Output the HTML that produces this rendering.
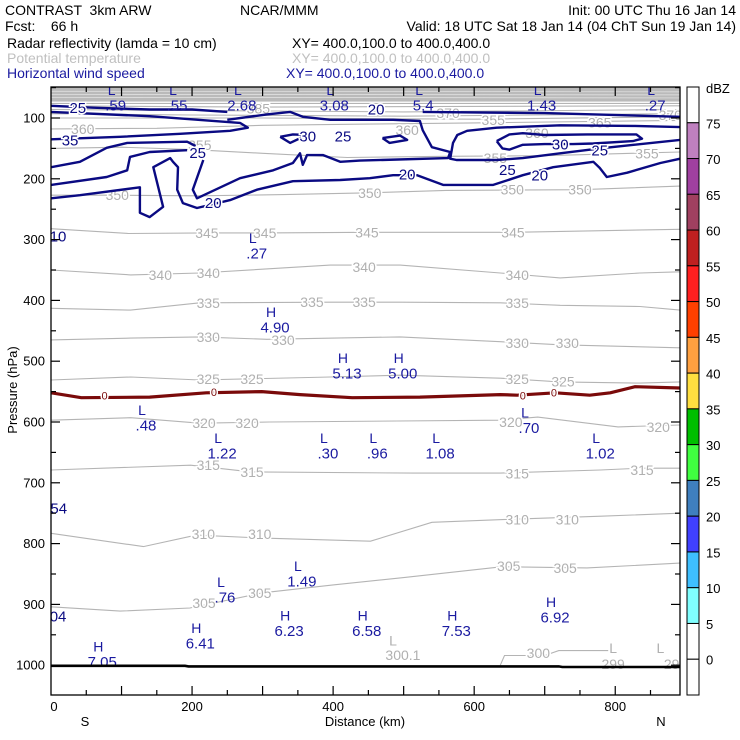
<!DOCTYPE html>
<html><head><meta charset="utf-8"><style>
body{margin:0;background:#fff;}
svg{display:block;font-family:"Liberation Sans",sans-serif;}
#chart text{white-space:pre;}
</style></head><body>
<svg id="chart" width="740" height="740" viewBox="0 0 740 740" xmlns="http://www.w3.org/2000/svg" xml:space="preserve">
<g font-size="14" fill="#000">
<text x="5" y="15">CONTRAST  3km ARW</text>
<text x="240" y="15">NCAR/MMM</text>
<text x="736" y="15" text-anchor="end">Init: 00 UTC Thu 16 Jan 14</text>
<text x="5" y="31">Fcst:    66 h</text>
<text x="736" y="31" text-anchor="end">Valid: 18 UTC Sat 18 Jan 14 (04 ChT Sun 19 Jan 14)</text>
<text x="7" y="48">Radar reflectivity (lamda = 10 cm)</text>
<text x="292" y="48">XY= 400.0,100.0 to 400.0,400.0</text>
<text x="7" y="63" fill="#c0c0c0">Potential temperature</text>
<text x="292" y="63" fill="#c0c0c0">XY= 400.0,100.0 to 400.0,400.0</text>
<text x="7" y="78" fill="#1a1aa0">Horizontal wind speed</text>
<text x="286" y="78" fill="#1a1aa0">XY= 400.0,100.0 to 400.0,400.0</text>
</g>
<g id="plot"></g>
<g id="cbar"></g>
</svg>
<script>
// ---------- data ----------
const xTicks=[0,200,400,600,800];
const yTicks=[100,200,300,400,500,600,700,800,900,1000];
const dbzLabels=[75,70,65,60,55,50,45,40,35,30,25,20,15,10,5,0];
const dbzColors=["#ffffff","#bf80bf","#a040a0","#a04060","#bf2020","#ff2020","#ff4000","#ffa040","#ffdf40","#00bf00","#40ff40","#3f7fbf","#4040ff","#3ebfff","#80ffff","#ffffff","#ffffff"];
const thetaLevels=[340,335,330,325,320,315,310,305];
const theta340=[[0,350],[113,358],[211,355],[396,342],[495,342],[637,355],[722,363],[835,355],[892,353]];
const theta335=[[0,413],[113,416],[211,404],[396,403],[495,403],[637,404],[722,408],[835,410],[892,416]];
const theta330=[[0,465],[113,462],[211,460],[306,464],[495,460],[637,468],[722,473],[892,478]];
const theta325=[[0,531],[113,526],[211,531],[396,526],[495,523],[637,528],[722,534],[835,536],[892,534]];
const theta320=[[0,597],[113,593],[211,602],[310,600],[637,597],[690,592],[804,608],[892,605]];
const theta315=[[0,679],[198,671],[284,682],[513,684],[637,684],[779,679],[835,676],[892,676]];
const theta310=[[0,783],[131,805],[206,786],[300,791],[453,796],[540,765],[650,760],[780,755],[892,750]];
const theta305=[[0,904],[98,911],[197,906],[300,881],[400,868],[500,856],[640,838],[760,840],[892,832]];
const theta350=[[0,227],[94,227],[211,228],[330,226],[452,223],[560,219],[750,218],[892,212]];
const theta345=[[0,282],[110,290],[221,289],[303,289],[448,288],[655,288],[892,283]];
const theta355=[[0,150],[100,148],[200,152],[300,158],[420,165],[560,163],[700,162],[892,156]];
const theta360=[[0,118],[150,117],[300,112],[450,110],[600,108],[892,104]];
const theta300=[[637,1000],[643,984],[700,984],[720,976],[790,976]];
const thetaTop=[[[0,76],[892,76]],[[0,80],[300,82],[892,80]],[[0,86],[250,88],[500,90],[892,86]],[[0,93],[200,95],[500,97],[892,93]],[[0,100],[300,100],[600,102],[892,98]]];
const wind35=[[0,90],[140,97],[268,108],[279,116],[254,121],[183,126],[98,131],[0,135]];
const windA=[[0,181],[41,172],[79,149],[108,141],[193,139],[205,146]];
const windB=[[0,210],[79,197],[108,186],[112,164],[140,156],[193,153]];
const windB2=[[216,169],[201,218],[207,232],[268,199],[315,186],[343,174],[353,158],[357,177],[363,161],[386,161],[410,172],[438,170],[563,166],[566,156],[540,148],[527,120],[523,105],[485,103],[434,103],[396,103],[357,98],[339,90],[306,94],[250,103]];
const windC=[[0,232],[41,227],[126,214],[126,256],[140,263],[159,246],[145,181],[169,166],[173,172],[180,181],[179,218],[187,240],[207,248],[254,235],[292,218],[343,204],[410,202],[452,199],[485,194],[519,194],[556,210],[627,210],[669,194],[712,181],[769,172],[778,182],[788,197],[817,190],[864,174],[892,167]];
const windR=[[892,115],[825,113],[722,112],[632,116],[590,121],[576,128],[570,141],[566,167],[575,169],[632,169],[669,166],[722,158],[778,150],[892,136]];
const windTop=[[527,90],[700,92],[892,98]];
const windTopL=[[0,80],[60,83],[140,86],[200,86],[250,90]];
const wind30a=[[325,131],[343,127],[363,128],[339,141],[325,131]];
const wind30b=[[470,133],[495,129],[505,136],[480,141],[470,133]];
const wind30c=[[632,138],[650,127],[669,125],[700,128],[760,127],[830,127],[838,134],[825,138],[769,142],[740,143],[700,143],[669,144],[650,152],[640,150],[632,138]];
const dbz0=[[0,552],[43,560],[140,559],[220,552],[299,550],[353,555],[427,560],[523,559],[637,555],[661,556],[715,552],[764,556],[793,552],[828,542],[892,544]];
const ground=[[0,1001],[190,1001],[195,1002],[720,1002],[725,1003],[892,1003]];
const hlLabels=[["L",".27",286,297],["H","4.90",312,419],["H","5.13",414,495],["H","5.00",493,495],["L",".48",129,580],["L","1.22",237,626],["L",".30",387,626],["L",".96",457,626],["L","1.08",546,626],["L",".70",672,584],["L","1.02",773,626],["L","1.49",350,837],["L",".76",241,863],["H","6.23",332,918],["H","6.58",442,918],["H","7.53",569,918],["H","6.92",709,896],["H","6.41",206,939],["H","7.05",67,969],
["L",".59",86,54],["L",".55",173,54],["L","2.68",265,54],["L","3.08",396,54],["L","5.4",522,54],["L","1.43",690,54],["L",".27",851,54]];
const windLabels=[["25",38,84],["35",27,138],["30",364,131],["25",414,131],["25",208,158],["20",230,241],["20",461,87],["20",505,194],["20",693,195],["30",722,144],["25",778,154],["25",647,186],["10",10,296],["54",11,743],["04",10,921]];
const thetaLabels=[["360",45,118],["385",294,84],["370",563,92],["355",627,103],["365",778,107],["370",878,95],["360",689,125],["360",505,120],["355",630,166],["355",845,158],["355",211,144],
["350",94,227],["350",654,218],["350",750,218],["350",452,223],["345",221,289],["345",303,289],["345",655,288],["345",448,288],
["340",155,358],["340",223,355],["340",444,345],["340",661,358],["335",223,404],["335",370,403],["335",444,403],["335",661,404],
["330",223,460],["330",329,465],["330",661,470],["330",732,470],["325",223,529],["325",285,529],["325",661,529],["325",726,533],
["320",217,602],["320",278,602],["320",652,600],["320",861,608],["315",223,671],["315",285,682],["315",661,685],["315",838,679],
["310",216,784],["310",296,784],["310",661,760],["310",732,760],["305",217,898],["305",296,881],["305",649,837],["305",729,840],
["300.1",499,983],["L",485,959],["300",691,980],["L",797,972],["299",797,998],["L",864,972],["29",880,998]];
const zeroLabels=[[76,558],[231,552],[669,558],[713,553]];

// ---------- axes ----------
const X0=51,X1=680,Y0=87,Y1=695;
const X=km=>X0+km*0.7053;
const Y=p=>118+(p-100)*0.608;
const NS="http://www.w3.org/2000/svg";
const plot=document.getElementById('plot');
function el(tag,attrs,parent){const e=document.createElementNS(NS,tag);for(const k in attrs)e.setAttribute(k,attrs[k]);(parent||plot).appendChild(e);return e;}
function pts(arr){return arr.map(d=>X(d[0]).toFixed(1)+","+Y(d[1]).toFixed(1)).join(" ");}
const clip=el('clipPath',{id:'pc'});el('rect',{x:X0,y:Y0,width:X1-X0,height:Y1-Y0},clip);
const g=el('g',{'clip-path':'url(#pc)'});

// top grey band
const band=el('rect',{x:X0,y:Y0,width:X1-X0,height:Y(73)-Y0,fill:'#bababa'},g);


for(let i=0;i<3;i++){const w=el('line',{x1:X0,x2:X1,y1:Y(56+i*5),y2:Y(57+i*5),stroke:'#e6e6e6','stroke-width':0.7},g);

}

const thetaSeries=[theta360,theta355,theta350,theta345,theta340,theta335,theta330,theta325,theta320,theta315,theta310,theta305,theta300].concat(thetaTop);
thetaSeries.forEach(s=>{const l=el('polyline',{points:pts(s),fill:'none',stroke:'#b4b4b4','stroke-width':1.1},g);

});

thetaLabels.forEach(t=>{const tx=el('text',{x:X(t[1]),y:Y(t[2]),'text-anchor':'middle','dominant-baseline':'central','font-size':14,fill:'#b0b0b0',stroke:'#fff','stroke-width':3,'paint-order':'stroke'},g);tx.textContent=t[0];

});

[wind35,windA,windB,windB2,windC,windR,windTop,windTopL,wind30a,wind30b,wind30c].forEach(s=>{const l=el('polyline',{points:pts(s),fill:'none',stroke:'#0a0a82','stroke-width':2.4,'stroke-linejoin':'round'},g);

});

const z=el('polyline',{points:pts(dbz0),fill:'none',stroke:'#7a0a0a','stroke-width':3.2},g);


zeroLabels.forEach(t=>{const tx=el('text',{x:X(t[0]),y:Y(t[1]),'text-anchor':'middle','dominant-baseline':'central','font-size':11,fill:'#7a0a0a',stroke:'#fff','stroke-width':3,'paint-order':'stroke'},g);tx.textContent='0';

});

windLabels.forEach(t=>{const tx=el('text',{x:X(t[1]),y:Y(t[2]),'text-anchor':'middle','dominant-baseline':'central','font-size':15,fill:'#0a0a82',stroke:'#fff','stroke-width':3,'paint-order':'stroke'},g);tx.textContent=t[0];

});

hlLabels.forEach(t=>{const a=el('text',{x:X(t[2]),y:Y(t[3]),'text-anchor':'middle','dominant-baseline':'central','font-size':14,fill:'#1a1aa0'},g);a.textContent=t[0];


const b=el('text',{x:X(t[2])+4,y:Y(t[3])+16,'text-anchor':'middle','dominant-baseline':'central','font-size':15,fill:'#1a1aa0'},g);b.textContent=t[1];

});

const gr=el('polyline',{points:pts(ground),fill:'none',stroke:'#000','stroke-width':2.6},g);



// frame and ticks
const fr=el('rect',{x:X0,y:Y0,width:X1-X0,height:Y1-Y0,fill:'none',stroke:'#000','stroke-width':1.3});


for(let p=50;p<=1050;p+=50){if(Y(p)<Y0||Y(p)>Y1)continue;
 const t1=el('line',{x1:X0,x2:X0+(p%100?5:9),y1:Y(p),y2:Y(p),stroke:'#000','stroke-width':1.2});
 
 
 const t2=el('line',{x1:X1,x2:X1-(p%100?5:9),y1:Y(p),y2:Y(p),stroke:'#000','stroke-width':1.2});
 
 }
for(let k=50;k<892;k+=50){
 const t1=el('line',{x1:X(k),x2:X(k),y1:Y1,y2:Y1-(k%100?5:9),stroke:'#000','stroke-width':1.2});
 
 
 const t2=el('line',{x1:X(k),x2:X(k),y1:Y0,y2:Y0+(k%100?5:9),stroke:'#000','stroke-width':1.2});
 
 }
yTicks.forEach(p=>{const t=el('text',{x:45,y:Y(p),'text-anchor':'end','dominant-baseline':'central','font-size':13});t.textContent=p;
 
 });
xTicks.forEach(k=>{const t=el('text',{x:X(k)+(k===0?3:0),y:711,'text-anchor':'middle','font-size':13});t.textContent=k;
 
 });
[["S",85,"direction-south"],["Distance (km)",365,"x-axis-title"],["N",661,"direction-north"]].forEach(a=>{const t=el('text',{x:a[1],y:726,'text-anchor':'middle','font-size':13});t.textContent=a[0];
 
 });
const yt=el('text',{x:0,y:0,transform:'translate(17,390) rotate(-90)','text-anchor':'middle','font-size':13});yt.textContent='Pressure (hPa)';



// colour bar
const cb=document.getElementById('cbar');
const segH=(Y1-Y0)/dbzColors.length;
dbzColors.forEach((c,i)=>{const r=el('rect',{x:687,y:Y0+i*segH,width:12,height:segH,fill:c,stroke:'#000','stroke-width':1},cb);
 
 });
dbzLabels.forEach((v,i)=>{const t=el('text',{x:706,y:Y0+(i+1)*segH+1,'dominant-baseline':'central','font-size':13},cb);t.textContent=v;
 
 });
const du=el('text',{x:706,y:93,'font-size':13},cb);du.textContent='dBZ';


</script>
</body></html>
